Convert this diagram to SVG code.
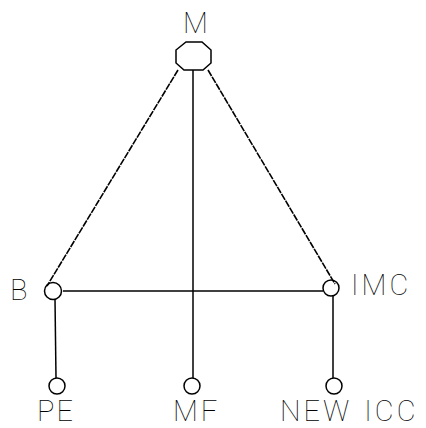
<svg xmlns="http://www.w3.org/2000/svg" width="426" height="428" viewBox="0 0 426 428">
<style>
.n{fill:none;stroke:#000;stroke-width:1.5}
.e{stroke:#000;stroke-width:1.5;fill:none}
.d{stroke:#000;stroke-width:1.6;fill:none;stroke-dasharray:7 1}
text{font-family:Roboto,"Liberation Sans",sans-serif;font-weight:100;fill:#000;font-size:29px}
</style>
<rect width="426" height="428" fill="#fff"/>
<g id="connectors">
<line class="d" x1="178" y1="70" x2="47" y2="286"/>
<line class="d" x1="208" y1="70" x2="335" y2="284"/>
<line class="e" x1="193" y1="70" x2="193" y2="378"/>
<line class="e" x1="63" y1="291" x2="323" y2="291"/>
<line class="e" x1="55" y1="299" x2="56" y2="378"/>
<line class="e" x1="333" y1="296" x2="333" y2="378"/>
</g>
<g id="M">
<polygon class="n" points="186,42 202,42 211,50 211,63 203,70 184,70 176,63 176,50"/>
<text x="183" y="33" font-size="28">M</text>
</g>
<g id="B">
<circle class="n" cx="53" cy="291" r="8.5"/>
<text x="10" y="300" font-size="30">B</text>
</g>
<g id="IMC">
<circle class="n" cx="331" cy="288" r="8"/>
<text x="351" y="295" font-size="30" letter-spacing="3">IMC</text>
</g>
<g id="PE">
<circle class="n" cx="57" cy="386" r="8"/>
<text x="37" y="421" letter-spacing="2">PE</text>
</g>
<g id="MF">
<circle class="n" cx="192" cy="386" r="8"/>
<text x="173" y="421" letter-spacing="3">MF</text>
</g>
<g id="NEWICC">
<circle class="n" cx="334" cy="386" r="8"/>
<text x="280" y="421" letter-spacing="3">NEW<tspan dx="12">ICC</tspan></text>
</g>
</svg>
